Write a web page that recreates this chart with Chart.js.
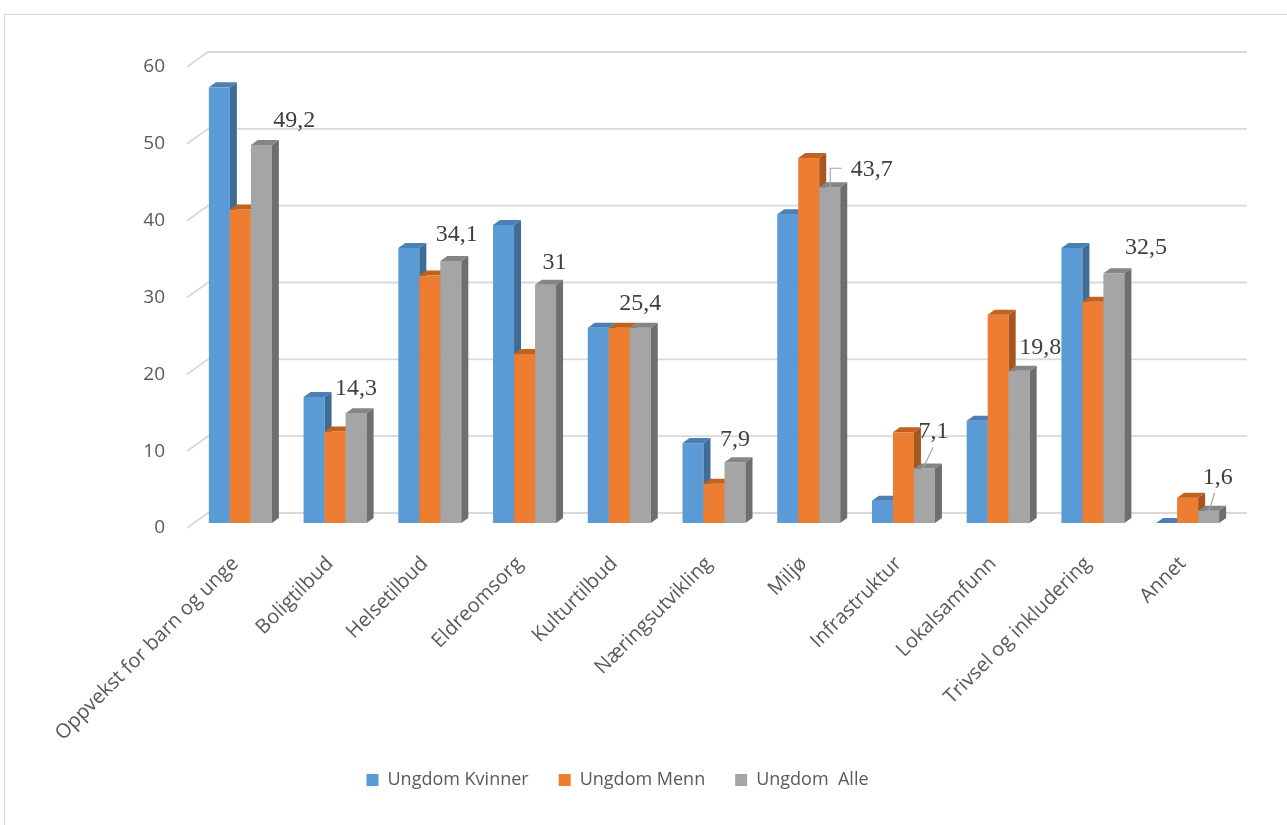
<!DOCTYPE html>
<html>
<head>
<meta charset="utf-8">
<script src="https://cdn.jsdelivr.net/npm/chart.js@4.4.1/dist/chart.umd.min.js"></script>
<style>
  body { margin: 0; background: #fff; }
  canvas { display: block; }
</style>
</head>
<body>
<canvas id="chart" width="1287" height="825"></canvas>
<script>
const categories = [
    'Oppvekst for barn og unge',
    'Boligtilbud',
    'Helsetilbud',
    'Eldreomsorg',
    'Kulturtilbud',
    'Næringsutvikling',
    'Miljø',
    'Infrastruktur',
    'Lokalsamfunn',
    'Trivsel og inkludering',
    'Annet'
]
const kvinner = [56.7, 16.4, 35.8, 38.8, 25.4, 10.4, 40.2, 2.9, 13.3, 35.8, 0]
const menn = [40.8, 11.9, 32.2, 22.0, 25.4, 5.1, 47.5, 11.8, 27.1, 28.8, 3.3]
const alle = [49.2, 14.3, 34.1, 31, 25.4, 7.9, 43.7, 7.1, 19.8, 32.5, 1.6]

// colours for front, side and top of each 3d bar
const faces = [
    { front: '#5B9BD5', side: '#3F6C96', top: '#4A80B5' },
    { front: '#ED7D31', side: '#A8561F', top: '#C1621F' },
    { front: '#A5A5A5', side: '#6E6E6E', top: '#858585' }
]
const depth = { x: 7, y: 5 }

// where each value label sits, relative to the top of the grey bar
const labelOffsets = [
    [33, -24], [0, -24], [6, -26], [9, -22], [0, -24], [0, -23],
    [42, -18], [9, -37], [21, -23], [32, -26], [9, -33]
]
// leader lines for the labels that were moved away from their bar
const leaders = {
    6: [[0.5, 0], [0.5, -19], [12, -19]],
    7: [[-1.5, 0], [8.5, -21]],
    10: [[0, 1], [6, -18]]
}

function fmt(v) {
    return String(v).replace('.', ',')
}

const bars3d = {
    id: 'bars3d',
    beforeDraw(chart) {
        let c = chart.ctx
        c.save()
        c.strokeStyle = '#d9d9d9'
        c.lineWidth = 1
        c.strokeRect(4.5, 14.5, 1400, 900)
        c.restore()
    },
    beforeDatasetsDraw(chart) {
        let c = chart.ctx
        let area = chart.chartArea
        let y = chart.scales.y
        c.save()
        // back wall grid with the little diagonal at the left
        c.strokeStyle = '#d9d9d9'
        c.lineWidth = 1.8
        y.ticks.forEach(function (t) {
            let py = y.getPixelForValue(t.value)
            c.beginPath()
            c.moveTo(area.left - 6, py + 5)
            c.lineTo(area.left + 15, py - 10)
            c.lineTo(area.right + 12, py - 10)
            c.stroke()
        })
        // bars: left to right within each group so the sides hide properly
        for (let i = 0; i < categories.length; i++) {
            chart.data.datasets.forEach(function (ds, d) {
                let bar = chart.getDatasetMeta(d).data[i]
                let f = faces[d]
                let l = bar.x - bar.width / 2
                let r = bar.x + bar.width / 2
                let t = bar.y
                let b = bar.base
                c.fillStyle = f.front
                c.fillRect(l, t, r - l, b - t)
                c.fillStyle = f.side
                c.beginPath()
                c.moveTo(r, t)
                c.lineTo(r + depth.x, t - depth.y)
                c.lineTo(r + depth.x, b - depth.y)
                c.lineTo(r, b)
                c.closePath()
                c.fill()
                c.fillStyle = f.top
                c.beginPath()
                c.moveTo(l, t)
                c.lineTo(l + depth.x, t - depth.y)
                c.lineTo(r + depth.x, t - depth.y)
                c.lineTo(r, t)
                c.closePath()
                c.fill()
            })
        }
        c.restore()
        return false
    },
    afterDraw(chart) {
        let c = chart.ctx
        let meta = chart.getDatasetMeta(2)
        c.save()
        c.font = '24px "Liberation Serif", "Times New Roman", serif'
        c.fillStyle = '#404040'
        c.textAlign = 'center'
        c.textBaseline = 'middle'
        meta.data.forEach(function (bar, i) {
            let off = labelOffsets[i]
            c.fillText(fmt(alle[i]), bar.x + off[0], bar.y + off[1])
            if (leaders[i]) {
                c.strokeStyle = '#a6a6a6'
                c.lineWidth = 1.2
                c.beginPath()
                leaders[i].forEach(function (p, k) {
                    if (k === 0) c.moveTo(bar.x + p[0], bar.y + p[1])
                    else c.lineTo(bar.x + p[0], bar.y + p[1])
                })
                c.stroke()
            }
        })
        c.restore()
    }
}

function drawChart() {
    let ctx = document.getElementById('chart')
    let chart = new Chart(ctx, {
        type: 'bar',
        data: {
            labels: categories,
            datasets: [{
                label: 'Ungdom Kvinner',
                data: kvinner,
                backgroundColor: faces[0].front
            }, {
                label: 'Ungdom Menn',
                data: menn,
                backgroundColor: faces[1].front
            }, {
                label: 'Ungdom  Alle',
                data: alle,
                backgroundColor: faces[2].front
            }]
        },
        options: {
            responsive: false,
            animation: false,
            barPercentage: 1,
            categoryPercentage: 0.665,
            layout: {
                padding: { top: 62, right: 52, bottom: 26, left: 0 }
            },
            scales: {
                x: {
                    grid: { display: false },
                    border: { display: false },
                    ticks: {
                        autoSkip: false,
                        minRotation: 45,
                        maxRotation: 45,
                        padding: 21,
                        labelOffset: -5,
                        color: '#595959',
                        font: { family: '"Open Sans", sans-serif', size: 20 }
                    },
                    afterFit: function (scale) { scale.height = 218 }
                },
                y: {
                    min: 0,
                    max: 60,
                    grid: { display: false },
                    border: { display: false },
                    ticks: {
                        stepSize: 10,
                        padding: 20,
                        labelOffset: 5,
                        color: '#595959',
                        font: { family: '"Open Sans", sans-serif', size: 19 }
                    },
                    afterFit: function (scale) { scale.width = 193 }
                }
            },
            plugins: {
                legend: {
                    position: 'bottom',
                    labels: {
                        boxWidth: 12,
                        boxHeight: 12,
                        padding: 30,
                        color: '#595959',
                        font: { family: '"Open Sans", sans-serif', size: 18 }
                    }
                },
                tooltip: { enabled: false }
            }
        },
        plugins: [bars3d]
    })
}

drawChart()
</script>
</body>
</html>
